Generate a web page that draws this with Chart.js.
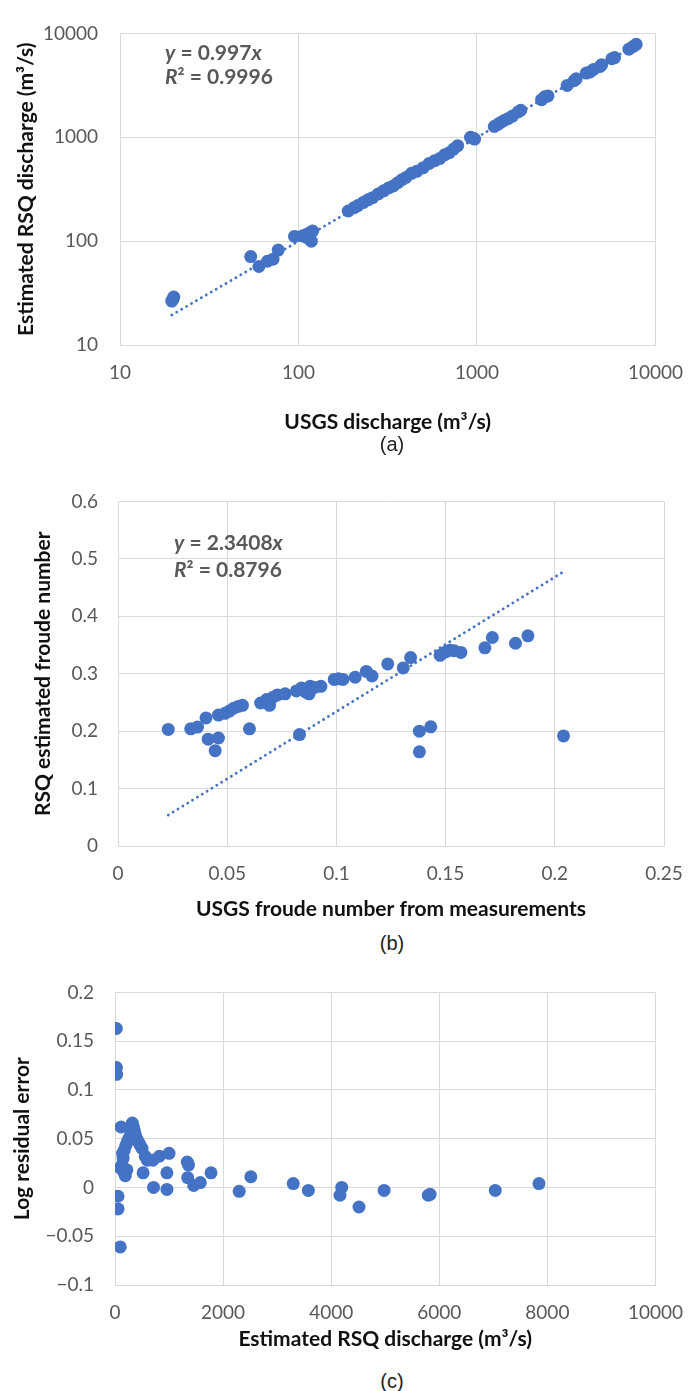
<!DOCTYPE html>
<html><head><meta charset="utf-8">
<script src="https://cdn.jsdelivr.net/npm/chart.js@4.4.0/dist/chart.umd.min.js"></script>
<style>
html,body{margin:0;padding:0;background:#fff;}
#wrap{position:relative;width:699px;height:1391px;overflow:hidden;background:#fff;}
canvas{position:absolute;left:0;}
.cap{position:absolute;font-family:"Liberation Sans",Arial,sans-serif;font-size:20px;color:#222;width:60px;text-align:center;line-height:24px;}
</style></head><body>
<div id="wrap">
<canvas id="ca" width="699" height="435" style="top:0px"></canvas>
<canvas id="cb" width="699" height="452" style="top:470px"></canvas>
<canvas id="cc" width="699" height="392" style="top:960px"></canvas>
<div class="cap" style="left:362px;top:432px">(a)</div>
<div class="cap" style="left:362px;top:931px">(b)</div>
<div class="cap" style="left:362px;top:1369px">(c)</div>
</div>
<script>
// ---------- (a) discharge comparison (log-log) ----------
const usgsDischarge = [19.5,20,19.8,54,60,67,72,77,95,110,115,120,112,118,105,
  190,205,215,230,245,260,280,300,320,340,360,380,400,430,460,500,540,580,620,660,700,740,780,
  920,950,970,1250,1300,1350,1420,1500,1580,1700,1760,2300,2400,2500,3200,3500,3600,
  4100,4300,4500,4900,5000,5700,5900,7100,7500,7800];
const rsqDischarge = [26.5,29,27.5,71,57,64,67,82,111,115,120,125,108,100,112,
  195,210,220,235,250,262,285,305,325,340,365,390,410,450,470,510,560,595,625,680,710,770,830,
  1000,980,960,1270,1320,1380,1450,1520,1600,1750,1820,2300,2450,2500,3150,3500,3650,
  4150,4250,4500,4800,5000,5700,5850,7050,7500,7850];
const dischargeTrendX = [19.5, 7900];
const dischargeTrendY = [19.44, 7876];
const logTicks = [10, 100, 1000, 10000];

// ---------- (b) froude number ----------
const usgsFroude = [0.023,0.0333,0.0364,0.0403,0.0413,0.046,0.0445,0.046,0.049,0.051,0.053,0.055,0.057,
  0.0602,0.0653,0.068,0.0694,0.071,0.073,0.0765,0.0831,0.0817,0.084,0.086,0.088,0.0875,0.090,0.0929,
  0.099,0.101,0.103,0.1086,0.1137,0.1163,0.1235,0.1306,0.134,0.138,0.138,0.1432,0.1475,0.150,0.152,0.154,0.157,
  0.168,0.1714,0.182,0.1877,0.204];
const rsqFroude = [0.203,0.204,0.207,0.223,0.186,0.188,0.166,0.228,0.231,0.235,0.240,0.243,0.245,
  0.204,0.249,0.255,0.245,0.259,0.263,0.265,0.194,0.270,0.275,0.268,0.278,0.265,0.276,0.278,
  0.290,0.291,0.290,0.294,0.304,0.296,0.317,0.310,0.328,0.200,0.164,0.2075,0.332,0.338,0.341,0.340,0.337,
  0.345,0.363,0.353,0.366,0.1916];
const froudeTrendX = [0.023, 0.205];
const froudeTrendY = [0.0538, 0.4799];
const froudeXTicks = [0, 0.05, 0.1, 0.15, 0.2, 0.25];
const froudeXLabels = ['0', '0.05', '0.1', '0.15', '0.2', '0.25'];
const froudeYTicks = [0, 0.1, 0.2, 0.3, 0.4, 0.5, 0.6];
const froudeYLabels = ['0', '0.1', '0.2', '0.3', '0.4', '0.5', '0.6'];

// ---------- (c) log residual error ----------
const rsqEstimated = [25,27,30,56,57,97,113,140,150,170,200,230,257,290,321,340,360,377,400,430,460,500,
  560,600,700,820,1000,100,130,160,190,220,520,960,713,961,
  1337,1360,1345,1457,1578,1777,2298,2513,3298,3578,4195,4163,4515,4979,5796,5830,7036,7845];
const logResidual = [0.163,0.123,0.116,-0.009,-0.022,-0.061,0.062,0.035,0.030,0.038,0.043,0.047,0.050,0.055,0.066,0.062,0.058,0.054,0.050,0.047,0.044,0.040,
  0.032,0.028,0.028,0.032,0.035,0.020,0.023,0.016,0.012,0.018,0.015,0.015,0.0,-0.002,
  0.026,0.023,0.010,0.002,0.005,0.015,-0.004,0.011,0.004,-0.003,0.0,-0.008,-0.020,-0.003,-0.008,-0.007,-0.003,0.004];
const residXTicks = [0, 2000, 4000, 6000, 8000, 10000];
const residXLabels = ['0', '2000', '4000', '6000', '8000', '10000'];
const residYTicks = [-0.1, -0.05, 0, 0.05, 0.1, 0.15, 0.2];
const residYLabels = ['\u22120.1', '\u22120.05', '0', '0.05', '0.1', '0.15', '0.2'];

const BLUE = '#4472C4';
const GRID = '#D9D9D9';
const TICKC = '#595959';
const TICKFONT = {family: 'Lato', size: 19};
const TITLEFONT = {family: 'Lato', size: 21, weight: 'bold'};

const pts = (xs, ys) => xs.map((x, i) => ({x: x, y: ys[i]}));

const eqPlugin = {
  id: 'eq',
  afterDatasetsDraw(chart, args, opts) {
    if (!opts || !opts.lines) return;
    const ctx = chart.ctx;
    ctx.save();
    ctx.fillStyle = '#595959';
    ctx.textBaseline = 'middle';
    ctx.textAlign = 'left';
    opts.lines.forEach((parts, li) => {
      let x = opts.x;
      const y = opts.y + li * opts.lh;
      parts.forEach(p => {
        ctx.font = (p.i ? 'italic ' : '') + 'bold 21px Lato';
        ctx.fillText(p.t, x, y);
        x += ctx.measureText(p.t).width;
      });
    });
    ctx.restore();
  }
};

function fixedTicks(values) {
  return (scale) => { scale.ticks = values.map(v => ({value: v})); };
}

function makeChart(id, cfg) {
  return new Chart(document.getElementById(id), {
    type: 'scatter',
    data: {
      datasets: [
        {data: pts(cfg.x, cfg.y), backgroundColor: BLUE, borderColor: BLUE, pointRadius: 6.5, pointHoverRadius: 6.5, borderWidth: 0, order: 1},
        ...(cfg.trendX ? [{data: pts(cfg.trendX, cfg.trendY), showLine: true, borderColor: BLUE, borderWidth: 2.8,
          borderDash: [0.1, 5.6], borderCapStyle: 'round', pointRadius: 0, fill: false, order: 0}] : [])
      ]
    },
    options: {
      responsive: false,
      animation: false,
      events: [],
      layout: {padding: {top: cfg.padTop, right: cfg.padRight, left: 0, bottom: 0}},
      plugins: {legend: {display: false}, tooltip: {enabled: false}, eq: cfg.eq || {}},
      scales: {
        x: {
          type: cfg.xType, min: cfg.xMin, max: cfg.xMax,
          afterBuildTicks: fixedTicks(cfg.xTicks),
          afterFit: (s) => { s.height = cfg.xH; },
          grid: {color: GRID, lineWidth: 1, drawTicks: false},
          border: {color: GRID, width: 1},
          ticks: {font: TICKFONT, color: TICKC, padding: 16, maxRotation: 0, autoSkip: false,
            callback: (v, i) => cfg.xLabels[i]},
          title: {display: true, text: cfg.xTitle, font: TITLEFONT, color: '#111', padding: {top: 0, bottom: 0}}
        },
        y: {
          type: cfg.yType, min: cfg.yMin, max: cfg.yMax,
          afterBuildTicks: fixedTicks(cfg.yTicks),
          afterFit: (s) => { s.width = cfg.yW; },
          grid: {color: GRID, lineWidth: 1, drawTicks: false},
          border: {color: GRID, width: 1},
          ticks: {font: TICKFONT, color: TICKC, padding: cfg.yPad, autoSkip: false,
            callback: (v, i) => cfg.yLabels[i]},
          title: {display: true, text: cfg.yTitle, font: TITLEFONT, color: '#111', padding: {top: cfg.yTitlePad, bottom: 0}}
        }
      }
    },
    plugins: [eqPlugin]
  });
}

makeChart('ca', {
  x: usgsDischarge, y: rsqDischarge, trendX: dischargeTrendX, trendY: dischargeTrendY,
  xType: 'logarithmic', yType: 'logarithmic', xMin: 10, xMax: 10000, yMin: 10, yMax: 10000,
  xTicks: logTicks, yTicks: logTicks, xLabels: logTicks.map(String), yLabels: logTicks.map(String),
  xTitle: 'USGS discharge (m\u00B3/s)', yTitle: 'Estimated RSQ discharge (m\u00B3/s)',
  padTop: 17, padRight: 27, xH: 90, yW: 120, yPad: 22, yTitlePad: 14,
  eq: {x: 165, y: 53, lh: 24, lines: [
    [{t: 'y', i: true}, {t: ' = 0.997'}, {t: 'x', i: true}],
    [{t: 'R', i: true}, {t: '\u00B2 = 0.9996'}]
  ]}
});

makeChart('cb', {
  x: usgsFroude, y: rsqFroude, trendX: froudeTrendX, trendY: froudeTrendY,
  xType: 'linear', yType: 'linear', xMin: 0, xMax: 0.25, yMin: 0, yMax: 0.6,
  xTicks: froudeXTicks, yTicks: froudeYTicks, xLabels: froudeXLabels, yLabels: froudeYLabels,
  xTitle: 'USGS froude number from measurements', yTitle: 'RSQ estimated froude number',
  padTop: 23, padRight: 35, xH: 76, yW: 118, yPad: 20, yTitlePad: 31,
  eq: {x: 174, y: 73, lh: 27, lines: [
    [{t: 'y', i: true}, {t: ' = 2.3408'}, {t: 'x', i: true}],
    [{t: 'R', i: true}, {t: '\u00B2 = 0.8796'}]
  ]}
});

makeChart('cc', {
  x: rsqEstimated, y: logResidual,
  xType: 'linear', yType: 'linear', xMin: 0, xMax: 10000, yMin: -0.1, yMax: 0.2,
  xTicks: residXTicks, yTicks: residYTicks, xLabels: residXLabels, yLabels: residYLabels,
  xTitle: 'Estimated RSQ discharge (m\u00B3/s)', yTitle: 'Log residual error',
  padTop: 31, padRight: 27, xH: 67, yW: 115, yPad: 21, yTitlePad: 10
});
</script>
</body></html>
